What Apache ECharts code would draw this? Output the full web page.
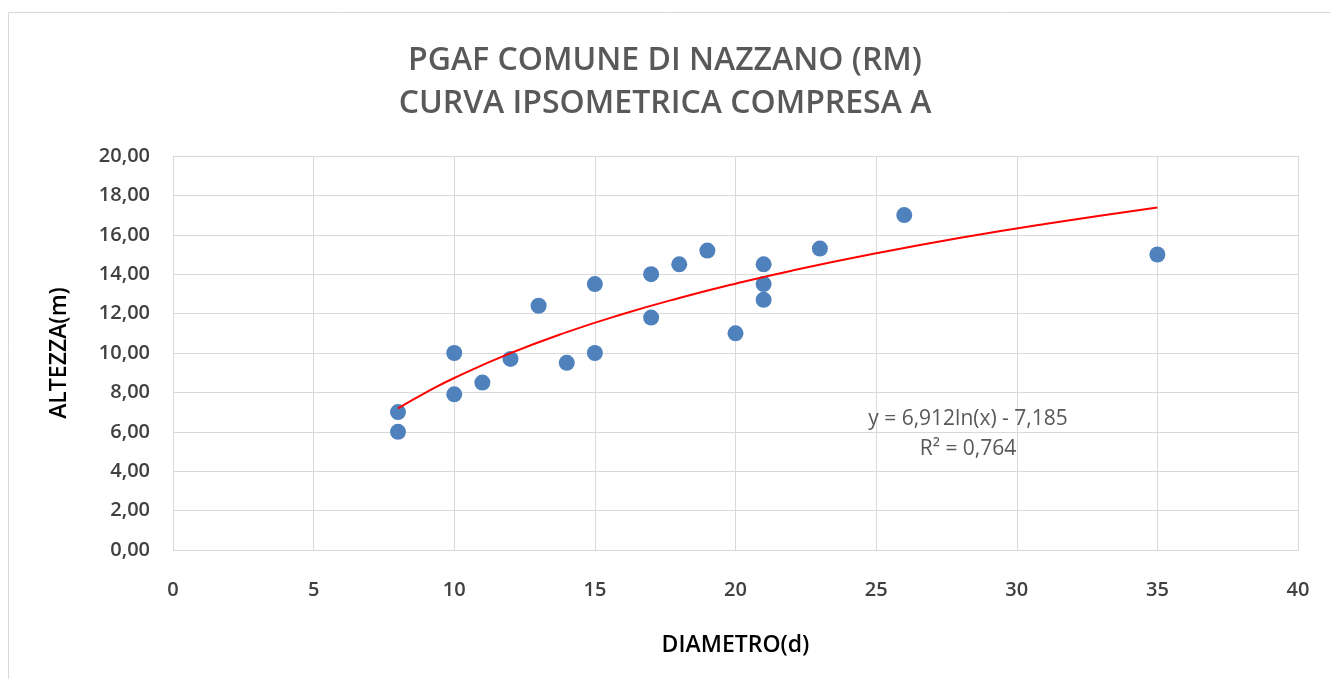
<!DOCTYPE html>
<html>
<head>
<meta charset="utf-8">
<script src="https://cdn.jsdelivr.net/npm/echarts@6.0.0/dist/echarts.min.js"></script>
<style>
  html, body { margin: 0; padding: 0; background: #fff; }
  #chart { width: 1330px; height: 679px; }
</style>
</head>
<body>
<div id="chart"></div>
<script>
// measured trees: diameter (d) and height (m)
const diametro = [8, 8, 10, 10, 11, 12, 13, 14, 15, 15, 17, 17, 18, 19, 20, 21, 21, 21, 23, 26, 35];
const altezza = [7.0, 6.0, 10.0, 7.9, 8.5, 9.7, 12.4, 9.5, 13.5, 10.0, 14.0, 11.8, 14.5, 15.2, 11.0, 14.5, 13.5, 12.7, 15.3, 17.0, 15.0];

// red trend curve
const trendX = [8, 9, 10, 12, 14, 16, 18, 20, 22, 25, 28, 31, 35];
const trendY = [7.19, 8.00, 8.73, 9.99, 11.06, 11.98, 12.79, 13.52, 14.18, 15.06, 15.85, 16.55, 17.39];

const titleLines = ['PGAF COMUNE DI NAZZANO (RM)', 'CURVA IPSOMETRICA COMPRESA A'];
const equation = ['y = 6,912ln(x) - 7,185', 'R² = 0,764'];

const gridColor = '#d9d9d9';
const font = '"Open Sans", "Liberation Sans", sans-serif';

var chart = echarts.init(document.getElementById('chart'));

var option = {
  backgroundColor: '#fff',
  animation: false,
  title: {
    text: titleLines.join('\n'),
    left: 'center',
    top: 34,
    textStyle: {
      fontFamily: font,
      fontSize: 32,
      fontWeight: 600,
      color: '#595959',
      lineHeight: 43,
    },
  },
  grid: {
    left: 173,
    right: 32,
    top: 156,
    bottom: 129,
  },
  xAxis: {
    type: 'value',
    min: 0,
    max: 40,
    interval: 5,
    name: 'DIAMETRO(d)',
    nameLocation: 'middle',
    nameGap: 84,
    nameTextStyle: { fontFamily: font, fontSize: 23, fontWeight: 600, color: '#000' },
    axisLine: { show: true, lineStyle: { color: gridColor, width: 1 } },
    axisTick: { show: false },
    axisLabel: { margin: 30, fontFamily: font, fontSize: 20, fontWeight: 600, color: '#404040' },
    splitLine: { show: true, lineStyle: { color: gridColor, width: 1 } },
  },
  yAxis: {
    type: 'value',
    min: 0,
    max: 20,
    interval: 2,
    name: 'ALTEZZA(m)',
    nameLocation: 'middle',
    nameGap: 102,
    nameTextStyle: { fontFamily: font, fontSize: 23, fontWeight: 600, color: '#000' },
    axisLine: { show: true, lineStyle: { color: gridColor, width: 1 } },
    axisTick: { show: false },
    axisLabel: {
      margin: 23,
      fontFamily: font,
      fontSize: 20,
      fontWeight: 600,
      color: '#404040',
      formatter: function (v) { return v.toFixed(2).replace('.', ','); },
    },
    splitLine: { show: true, lineStyle: { color: gridColor, width: 1 } },
  },
  graphic: [
    {
      type: 'rect',
      shape: { x: 8.5, y: 12.5, width: 1400, height: 800 },
      style: { fill: 'none', stroke: '#d9d9d9', lineWidth: 1 },
      silent: true,
      z: -10,
    },
    {
      type: 'text',
      x: 968,
      y: 434,
      style: {
        text: equation.join('\n'),
        fontFamily: font,
        fontSize: 21,
        lineHeight: 30,
        fill: '#595959',
        align: 'center',
        verticalAlign: 'middle',
      },
      z: 100,
    },
  ],
  series: [
    {
      name: 'Trend',
      type: 'line',
      smooth: true,
      symbol: 'none',
      lineStyle: { color: '#ff0000', width: 2 },
      data: trendX.map((x, i) => [x, trendY[i]]),
      z: 3,
    },
    {
      name: 'Altezza',
      type: 'scatter',
      symbol: 'circle',
      symbolSize: 16,
      itemStyle: { color: '#4f81bd', opacity: 1 },
      data: diametro.map((d, i) => [d, altezza[i]]),
      z: 2,
    },
  ],
};

chart.setOption(option);
</script>
</body>
</html>
